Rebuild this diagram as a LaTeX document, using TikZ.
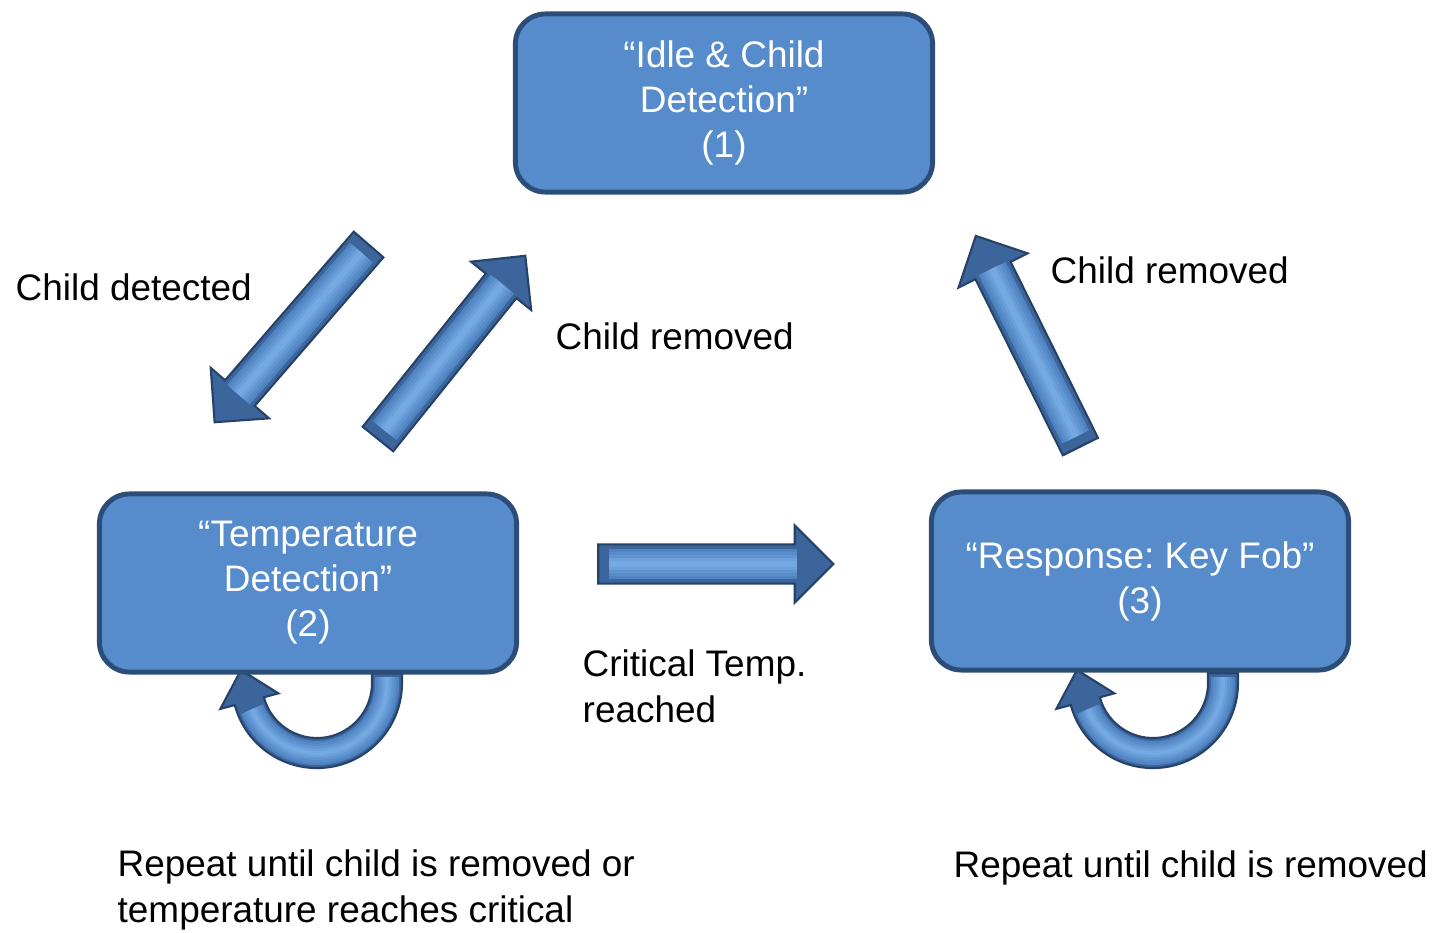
\documentclass[tikz,border=0pt]{standalone}
\usepackage{fontspec}
\setmainfont{Liberation Sans}
\usepackage{tikz}
\usetikzlibrary{shapes.arrows}
\usetikzlibrary{calc}
\usepackage{xcolor}
\definecolor{boxblue}{RGB}{86,140,204}
\definecolor{boxrim}{RGB}{44,77,120}
\definecolor{arrowblue}{RGB}{74,126,189}
\definecolor{arrowrim}{RGB}{38,66,104}
\definecolor{arrowlight}{RGB}{122,174,232}
\frenchspacing

\begin{document}
\begin{tikzpicture}[x=0.01cm,y=0.01cm,
  every node/.style={font=\fontsize{10.5pt}{12.8pt}\selectfont},
  state/.style={rectangle,rounded corners=0.3cm,fill=boxblue,draw=boxrim,line width=1.4pt,
    text=white,align=center,minimum width=4.17cm,minimum height=1.78cm,inner sep=0pt},
  blockarrow/.style={single arrow,single arrow head extend=0.19cm,
    minimum height=2.35cm,inner xsep=0pt,inner ysep=0.185cm,text height=0pt,text depth=0pt,
    fill=arrowrim!40!arrowblue,draw=arrowrim,line width=0.6pt,rotate=#1},
  blockarrow/.default=0,
  uturn/.style={fill=arrowrim!40!arrowblue,draw=arrowrim,line width=0.6pt,line join=miter},
  shine/.style={line width=#1cm},
  lbl/.style={anchor=base west,align=left,inner sep=0pt}]
  \useasboundingbox (0,0) rectangle (1435,932);

  \begin{scope}[shift={(317,249)}]
    \path[uturn] (85,10) -- (85,0) arc[start angle=0,end angle=-165,radius=0.85cm]
      -- (-165:1cm) -- (-76,13) -- (-165:0.4cm) -- (-165:0.55cm)
      arc[start angle=-165,end angle=0,radius=0.55cm] -- (55,10) -- cycle;
    \foreach \w/\c in {0.24/10,0.19/30,0.14/50,0.09/70,0.04/90}
      \draw[shine=\w,arrowlight!\c!arrowblue] (70,6) -- (70,0) arc[start angle=0,end angle=-158,radius=0.7cm];
  \end{scope}
  \begin{scope}[shift={(1153,249)}]
    \path[uturn] (85,10) -- (85,0) arc[start angle=0,end angle=-165,radius=0.85cm]
      -- (-165:1cm) -- (-76,13) -- (-165:0.4cm) -- (-165:0.55cm)
      arc[start angle=-165,end angle=0,radius=0.55cm] -- (55,10) -- cycle;
    \foreach \w/\c in {0.24/10,0.19/30,0.14/50,0.09/70,0.04/90}
      \draw[shine=\w,arrowlight!\c!arrowblue] (70,6) -- (70,0) arc[start angle=0,end angle=-158,radius=0.7cm];
  \end{scope}

  \node[state] (idle) at (724,829) {“Idle \& Child\\Detection”\\(1)};
  \node[state] (temp) at (308,349) {“Temperature\\Detection”\\(2)};
  \node[state] (fob) at (1140,351) {“Response: Key Fob”\\(3)};

  \node[blockarrow=229.1] (toTemp) at (298,606) {};
  \node[blockarrow=51.2] (backIdleA) at (445.5,577) {};
  \node[blockarrow] (toFob) at (706,368) {};
  \node[blockarrow=116.4] (backIdleB) at (1032.5,582) {};
  \foreach \a in {toTemp,backIdleA,toFob,backIdleB}
    \foreach \w/\c in {0.30/10,0.24/30,0.18/50,0.12/70,0.06/90}
      \draw[shine=\w,arrowlight!\c!arrowblue] ($(\a.tail)!0.05!(\a.tip)$) -- ($(\a.tail)!0.84!(\a.tip)$);

  \node[lbl] (detected) at (15,632) {Child detected};
  \node[lbl] (removedA) at (555,583) {Child removed};
  \node[lbl] (removedB) at (1050,649) {Child removed};
  \node[lbl] (critical) at (582,210) {Critical Temp.\\reached};
  \node[lbl] (repeatA) at (117,10) {Repeat until child is removed or\\temperature reaches critical};
  \node[lbl] (repeatB) at (953,55) {Repeat until child is removed};
\end{tikzpicture}
\end{document}
